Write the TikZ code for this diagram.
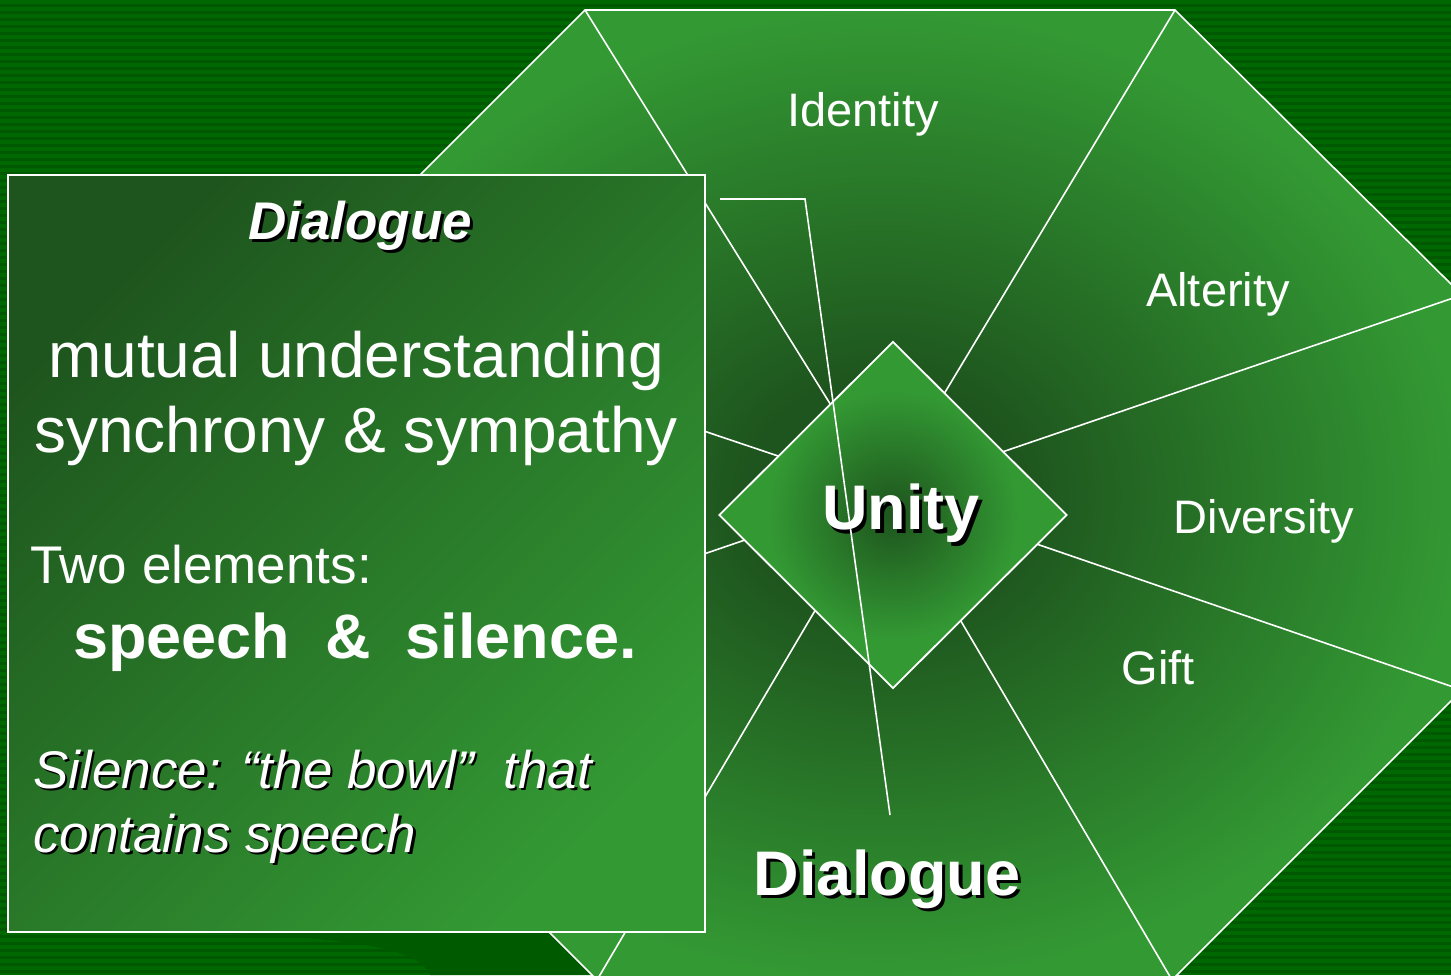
\documentclass[tikz,border=0pt]{standalone}
\usepackage{fontspec}
\setmainfont{Liberation Sans}
\usetikzlibrary{shapes.geometric}
\definecolor{bgA}{HTML}{006800}
\definecolor{bgB}{HTML}{005800}
\definecolor{bgC}{HTML}{005A00}
\definecolor{ltg}{HTML}{339933}
\definecolor{dkg}{HTML}{1E551E}
\pgfdeclareradialshading{octshade}{\pgfpoint{0bp}{0bp}}{color(0bp)=(dkg); color(6bp)=(dkg); color(25bp)=(ltg); color(50bp)=(ltg)}
\pgfdeclareradialshading{diashade}{\pgfpoint{0bp}{0bp}}{color(0bp)=(dkg); color(3bp)=(dkg!85!ltg); color(18bp)=(ltg); color(50bp)=(ltg)}
\newcommand\shtxt[2][3pt]{\makebox[0pt][l]{\kern#1\raisebox{-#1}{\textcolor{black}{#2}}}#2}
\begin{document}
\begin{tikzpicture}[x=1pt,y=-1pt,
  wline/.style={draw=white, line width=1.6pt},
  lbl/.style={text=white, inner sep=0pt, font=\fontsize{47}{52}\selectfont},
  big/.style={text=white, inner sep=0pt, font=\fontsize{64}{70}\selectfont},
  mid/.style={text=white, inner sep=0pt, font=\fontsize{53}{58}\selectfont},
  boldbig/.style={text=white, inner sep=0pt, font=\fontsize{63}{70}\selectfont\bfseries},
  itl/.style={text=white, inner sep=0pt, font=\fontsize{53}{58}\selectfont\itshape},
  boxst/.style={draw=white, line width=2pt, shading=axis, top color=dkg, bottom color=ltg, shading angle=45, minimum width=697pt, minimum height=757pt, inner sep=0pt},
  diast/.style={diamond, draw=white, line width=1.8pt, shading=diashade, minimum width=348pt, minimum height=347pt, inner sep=0pt, text=white, font=\fontsize{63}{70}\selectfont\bfseries}
]
\useasboundingbox (0,0) rectangle (1451,975);
% background
\fill[bgA] (0,0) rectangle (1451,975);
\foreach \i in {0,7,...,973} \fill[bgB] (0,\i+4) rectangle (1451,\i+7);
\fill[bgC] (190,933) .. controls (330,936) and (420,945) .. (430,975) -- (600,975) -- (548,933) -- cycle;
% octagon
\coordinate (o1) at (585,10);
\coordinate (o2) at (1175,10);
\coordinate (o3) at (1462,295);
\coordinate (o4) at (1462,690);
\coordinate (o5) at (1172,980);
\coordinate (o6) at (597,980);
\coordinate (o7) at (307,690);
\coordinate (o8) at (300,295);
\coordinate (c) at (885,492);
\shadedraw[shading=octshade, draw=white, line width=1.6pt] (o1) -- (o2) -- (o3) -- (o4) -- (o5) -- (o6) -- (o7) -- (o8) -- cycle;
\foreach \v in {o1,o2,o3,o4,o5,o6,o7,o8} \draw[wline] (\v) -- (c);
% labels of segments
\node[lbl, anchor=base] (identity) at (863,126) {Identity};
\node[lbl, anchor=base] (alterity) at (1218,306) {Alterity};
\node[lbl, anchor=base] (diversity) at (1264,533) {Diversity};
\node[lbl, anchor=base] (gift) at (1158,684) {Gift};
\node[boldbig, anchor=base] (dlg) at (887,895) {\shtxt[3.5pt]{Dialogue}};
% central diamond
\node[diast] (unity) at (893,515) {\hspace*{16pt}\shtxt[3.5pt]{Unity}};
% odd line
\coordinate (w1) at (720,199);
\coordinate (w2) at (805,199);
\coordinate (w3) at (890,815);
\draw[wline] (w1) -- (w2) -- (w3);
% left box
\node[boxst] (box) at (356.5,553.5) {};
\node[text=white, inner sep=0pt, font=\fontsize{53}{58}\selectfont\bfseries\itshape, anchor=base] (title) at (360,239) {\shtxt[3pt]{Dialogue}};
\node[big, anchor=base] (mu) at (356,377) {mutual understanding};
\node[big, anchor=base] (sy) at (356,452) {synchrony \& sympathy};
\node[mid, anchor=base west] (two) at (30,583) {Two elements:};
\node[boldbig, anchor=base west] (sp) at (73,658) {speech\ \ \&\ \ silence.};
\node[itl, anchor=base west] (si1) at (33,788) {\shtxt[2.5pt]{Silence: “the bowl”\ \ that}};
\node[itl, anchor=base west] (si2) at (33,852) {\shtxt[2.5pt]{contains speech}};
\end{tikzpicture}
\end{document}
